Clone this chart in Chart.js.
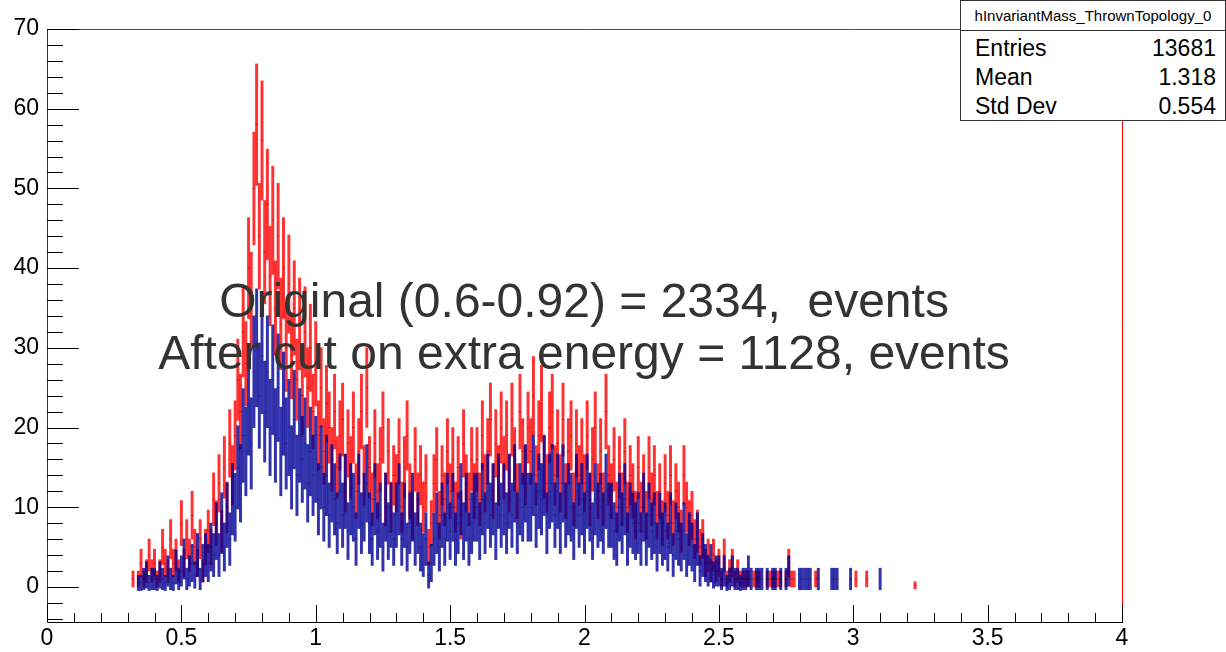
<!DOCTYPE html>
<html lang="en">
<head>
<meta charset="UTF-8" />
<title>hInvariantMass_ThrownTopology_0</title>
<script src="https://cdn.jsdelivr.net/npm/chart.js@4.4.0/dist/chart.umd.min.js"></script>
<style>
  body { margin: 0; background: #fff; font-family: "Liberation Sans", Arial, sans-serif; }
  .wrap { position: relative; width: 1226px; height: 652px; overflow: hidden; }
  canvas { position: absolute; left: 0; top: 0; }
  .note {
    position: absolute; left: 0; width: 1168px;
    text-align: center; font-size: 48px; line-height: 48px;
    color: #333; white-space: pre;
  }
  .stats {
    position: absolute; left: 960px; top: 0; width: 264px; height: 119px;
    border: 1px solid #333; background: #fff;
  }
  .stats .title {
    height: 29px; line-height: 29px; border-bottom: 1px solid #333;
    font-size: 15px; text-align: center;
  }
  .stats .row {
    display: flex; justify-content: space-between;
    height: 29px; line-height: 29px; font-size: 23px;
    padding: 0 9px 0 14px;
  }
  .stats .rows { padding-top: 3px; }
</style>
</head>
<body>
<div class="wrap">
  <canvas id="massChart" width="1226" height="652"></canvas>
  <div class="note" style="top:277px">Original (0.6-0.92) = 2334,  events</div>
  <div class="note" style="top:329px">After cut on extra energy = 1128, events</div>
  <div class="stats">
    <div class="title">hInvariantMass_ThrownTopology_0</div>
    <div class="rows">
      <div class="row"><span>Entries</span><span>13681</span></div>
      <div class="row"><span>Mean</span><span>1.318</span></div>
      <div class="row"><span>Std Dev</span><span>0.554</span></div>
    </div>
  </div>
</div>

<script>
  // binning of both histograms (bin centres start at 0.32, step 0.01)
  const binStart = 0.32;
  const binWidth = 0.01;

  // original selection (red), one line per 0.1 in mass
  const redCounts = [
    1, null, 1, 3, 1, 2, 4, 2,
    3, 1, 2, 5, 3, 2, 6, 3, 4, 2,
    8, 3, 6, 4, 9, 5, 3, 6, 2, 5,
    7, 5, 11, 8, 13, 7, 15, 10, 18, 14,
    19, 26, 22, 32, 28, 40, 36, 50, 58, 44,
    56, 42, 48, 39, 46, 35, 44, 33, 40, 30,
    38, 29, 35, 26, 33, 24, 32, 25, 30, 22,
    28, 19, 25, 17, 23, 20, 16, 22, 15, 19,
    21, 13, 18, 15, 20, 12, 17, 22, 14, 25,
    15, 11, 18, 12, 16, 20, 11, 17, 10, 14,
    13, 17, 10, 15, 19, 12, 9, 16, 11, 14,
    10, 13, 5, 8, 13, 16, 9, 14, 11, 17,
    12, 16, 10, 15, 9, 18, 13, 11, 16, 12,
    16, 11, 19, 13, 17, 21, 12, 18, 14, 20,
    15, 19, 13, 21, 16, 12, 22, 17, 14, 20,
    17, 24, 14, 19, 23, 15, 13, 20, 22, 14,
    18, 13, 21, 12, 17, 19, 11, 18, 14, 17,
    13, 19, 11, 16, 20, 12, 17, 11, 22, 14,
    12, 16, 10, 15, 11, 17, 10, 14, 12, 9,
    15, 10, 13, 9, 15, 11, 14, 9, 12, 8,
    13, 9, 14, 8, 12, 10, 7, 14, 10, 8,
    9, 6, 7, 5, 6, 3, 4, 2, 4, 2,
    3, 1, 4, 1, 2, 3, 1, 2, 1, 1,
    1, 1, null, 1, 1, 1, null, null, 1, 1,
    1, 1, 1, 1, null, 1, 3, 1, 1, null,
    null, null, null, null, null, null, 1, null, null, null,
    null, null, null, null, null, null, null, null, null, null,
    null, 1, null, null, null, 1, null, null, null, null,
    null, null, null, null, null, null, null, null, null, null,
    null, null, null, 0.2, null
  ];

  // after cut on extra energy (blue)
  const blueCounts = [
    null, null, 0.5, 0.5, 1, 1.5, 0.5, 1,
    1, 0.5, 1.5, 1, 0.5, 2, 1, 0.5, 2.5, 1,
    2, 3.5, 1, 2, 3, 1.5, 4, 1, 3, 4,
    3, 5, 4, 7, 4, 8, 5, 9, 6, 11,
    10, 15, 13, 19, 17, 23, 18, 27, 30, 24,
    29, 22, 27, 20, 26, 19, 25, 17, 23, 18,
    20, 15, 21, 14, 19, 16, 18, 13, 17, 14,
    16, 11, 15, 10, 14, 9, 13, 11, 8, 12,
    9, 12, 7, 11, 10, 6, 12, 8, 10, 13,
    8, 6, 11, 7, 9, 5, 10, 7, 9, 6,
    9, 11, 6, 9, 5, 8, 10, 6, 8, 5,
    4, 6, 1.5, 3, 6, 8, 5, 9, 6, 10,
    7, 10, 6, 8, 11, 7, 10, 6, 8, 10,
    10, 7, 11, 8, 12, 9, 11, 7, 12, 9,
    11, 8, 12, 9, 13, 8, 11, 10, 13, 10,
    10, 14, 9, 12, 11, 14, 8, 12, 13, 9,
    12, 8, 13, 9, 11, 10, 7, 12, 9, 11,
    8, 12, 10, 7, 11, 9, 10, 8, 12, 9,
    9, 7, 6, 10, 8, 11, 6, 9, 8, 7,
    8, 6, 10, 6, 9, 7, 8, 5, 8, 6,
    7, 5, 8, 4, 7, 6, 5, 7, 4, 6,
    5, 3, 6, 2, 4, 3, 2, 3, 1.5, 2,
    2, 1, 2, 0.5, 1, 2, 1, 1, 0.5, 1,
    1, 2, 1, null, 1, 1, 1, null, 1, null,
    1, 1, null, 1, null, 1, 2, null, null, null,
    1, 1, 1, 1, 1, null, null, 1, null, null,
    null, null, 1, 1, 1, null, null, null, null, 1,
    null, null, null, null, null, null, null, null, null, null,
    1, null, null, null, null, null, null, null, null, null,
    null, null, null, null, null
  ];

  const xTicks = [0, 0.5, 1, 1.5, 2, 2.5, 3, 3.5, 4];
  const yTicks = [0, 10, 20, 30, 40, 50, 60, 70];
  const xRange = [0, 4];
  const yRange = [-4.4, 70];

  // error bars as floating bars: value +- k*sqrt(value)
  function errorBars(values, k) {
    const out = [];
    values.forEach((v, i) => {
      if (v === null) return;
      const e = k * Math.sqrt(Math.abs(v));
      out.push({ x: binStart + i * binWidth, y: [v - e, v + e] });
    });
    return out;
  }

  function centres(values) {
    const out = [];
    values.forEach((v, i) => {
      if (v !== null) out.push({ x: binStart + i * binWidth, y: v });
    });
    return out;
  }

  // ROOT-like inward ticks plus the red frame line on top and at x = 4
  const axisTicks = {
    id: 'axisTicks',
    afterDraw(chart) {
      const { ctx, chartArea: a, scales: { x, y } } = chart;
      ctx.save();
      ctx.lineWidth = 1;

      const top = Math.round(y.getPixelForValue(yRange[1])) + 0.5;
      const right = Math.round(x.getPixelForValue(xRange[1])) + 0.5;
      ctx.strokeStyle = 'rgb(255,0,0)';
      ctx.beginPath();
      ctx.moveTo(a.left, top);
      ctx.lineTo(right, top);
      ctx.lineTo(right, a.bottom);
      ctx.stroke();

      ctx.strokeStyle = '#000';
      ctx.beginPath();
      for (let i = 0; i <= 40; i++) {
        const px = Math.round(x.getPixelForValue(i / 10)) + 0.5;
        const len = i % 5 === 0 ? 17 : 9;
        ctx.moveTo(px, a.bottom);
        ctx.lineTo(px, a.bottom - len);
      }
      for (let v = -4; v <= 70; v += 2) {
        const py = Math.round(y.getPixelForValue(v)) + 0.5;
        const len = v % 10 === 0 ? 32 : 16;
        ctx.moveTo(a.left, py);
        ctx.lineTo(a.left + len, py);
      }
      ctx.stroke();
      ctx.restore();
    }
  };

  const tickFont = { family: '"Liberation Sans", Arial, sans-serif', size: 23 };

  new Chart(document.getElementById('massChart'), {
    type: 'bar',
    data: {
      datasets: [
        {
          type: 'line',
          data: centres(blueCounts).concat(centres(redCounts)),
          showLine: false,
          pointStyle: 'line',
          pointRadius: 1.5,
          pointBorderWidth: 1,
          pointBorderColor: 'rgba(0,0,0,0.3)',
          order: 0
        },
        {
          label: 'after cut',
          data: errorBars(blueCounts, 1.35),
          backgroundColor: 'rgba(0,0,150,0.8)',
          barThickness: 2.3,
          grouped: false,
          order: 1
        },
        {
          label: 'original',
          data: errorBars(redCounts, 1),
          backgroundColor: 'rgba(255,0,0,0.8)',
          barThickness: 2.3,
          grouped: false,
          order: 2
        }
      ]
    },
    options: {
      responsive: false,
      animation: false,
      devicePixelRatio: 1,
      layout: { padding: { top: 29, right: 104, left: 0, bottom: 0 } },
      plugins: { legend: { display: false }, tooltip: { enabled: false } },
      scales: {
        x: {
          type: 'linear',
          min: xRange[0],
          max: xRange[1],
          offset: false,
          afterFit: s => { s.height = 30; },
          afterBuildTicks: s => { s.ticks = xTicks.map(v => ({ value: v })); },
          grid: { display: false, drawTicks: false },
          border: { display: true, color: '#000', width: 1 },
          ticks: { color: '#000', font: tickFont, padding: 3, maxRotation: 0, callback: v => String(v) }
        },
        y: {
          type: 'linear',
          min: yRange[0],
          max: yRange[1],
          afterFit: s => { s.width = 47; },
          afterBuildTicks: s => { s.ticks = yTicks.map(v => ({ value: v })); },
          grid: { display: false, drawTicks: false },
          border: { display: true, color: '#333', width: 1 },
          ticks: { color: '#000', font: tickFont, padding: 8, callback: v => String(v) }
        }
      }
    },
    plugins: [axisTicks]
  });
</script>
</body>
</html>
